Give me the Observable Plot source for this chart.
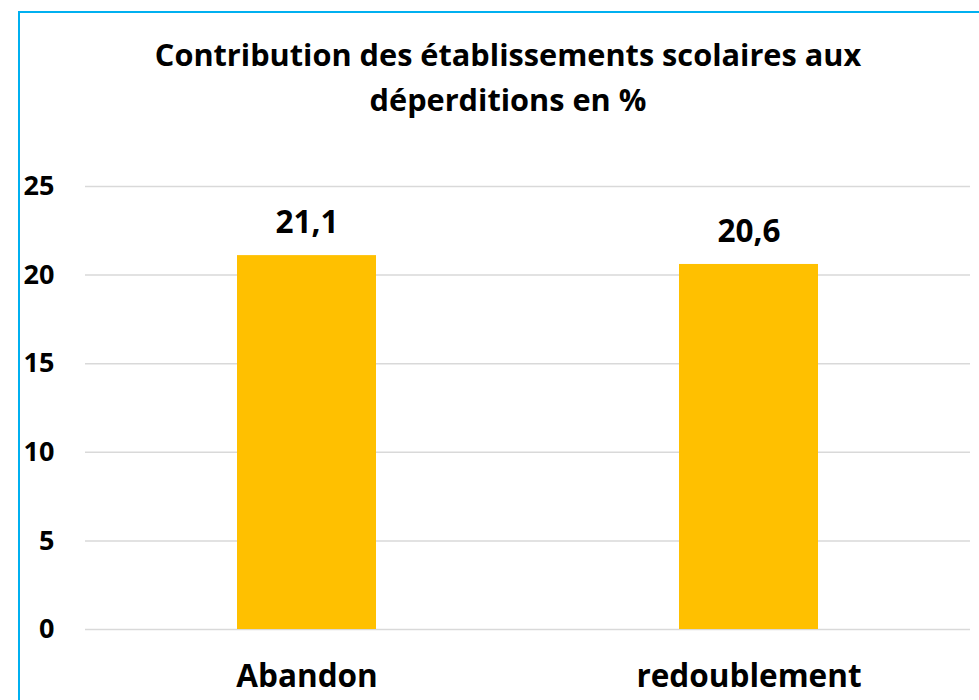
<!DOCTYPE html>
<html>
<head>
<meta charset="utf-8">
<script src="https://cdn.jsdelivr.net/npm/d3@7"></script>
<script src="https://cdn.jsdelivr.net/npm/@observablehq/plot@0.6"></script>
<style>
  html, body { margin: 0; padding: 0; background: #fff; }
  body { width: 979px; height: 700px; position: relative; overflow: hidden; font-family: "Open Sans", Lato, sans-serif; font-variant-ligatures: none; }
  #frame { position: absolute; left: 18px; top: 11px; width: 970px; height: 700px;
           border-left: 2px solid #00b0f0; border-top: 2px solid #00b0f0; box-sizing: border-box; }
  #title { position: absolute; left: 58px; width: 900px; top: 32px; text-align: center;
           font-weight: bold; font-size: 30.7px; line-height: 45px; color: #000; }
  #chart { position: absolute; left: 0; top: 150px; }
</style>
</head>
<body>
<div id="frame"></div>
<div id="title">Contribution des établissements scolaires aux<br>déperditions en %</div>
<div id="chart"></div>
<script>
const categories = ["Abandon", "redoublement"];
const values = [21.1, 20.6];
const yTicks = [0, 5, 10, 15, 20, 25];

const data = categories.map((c, i) => ({category: c, value: values[i]}));
const fmt = v => String(v).replace(".", ",");

const chart = Plot.plot({
  width: 979,
  height: 550,
  marginTop: 36,
  marginBottom: 71,
  marginLeft: 85,
  marginRight: 9,
  style: {fontFamily: "'Open Sans', Lato, sans-serif", fontWeight: "bold", color: "#000", background: "transparent"},
  x: {domain: categories, paddingInner: 0.686, paddingOuter: 0.343, label: null},
  y: {domain: [0, 25], label: null},
  marks: [
    Plot.gridY(yTicks, {stroke: "#d9d9d9", strokeOpacity: 1, strokeWidth: 1.5}),
    Plot.barY(data, {x: "category", y: "value", fill: "#FFC000"}),
    Plot.text(data, {x: "category", y: "value", text: d => fmt(d.value), dy: -33, fontSize: 31.5, fontWeight: "bold", fill: "#000"}),
    Plot.axisY(yTicks, {tickSize: 0, tickPadding: 31, fontSize: 27, fontWeight: "bold", fill: "#000", label: null}),
    Plot.axisX({tickSize: 0, tickPadding: 35, fontSize: 31.5, fontWeight: "bold", fill: "#000", label: null})
  ]
});
document.getElementById("chart").appendChild(chart);
</script>
</body>
</html>
